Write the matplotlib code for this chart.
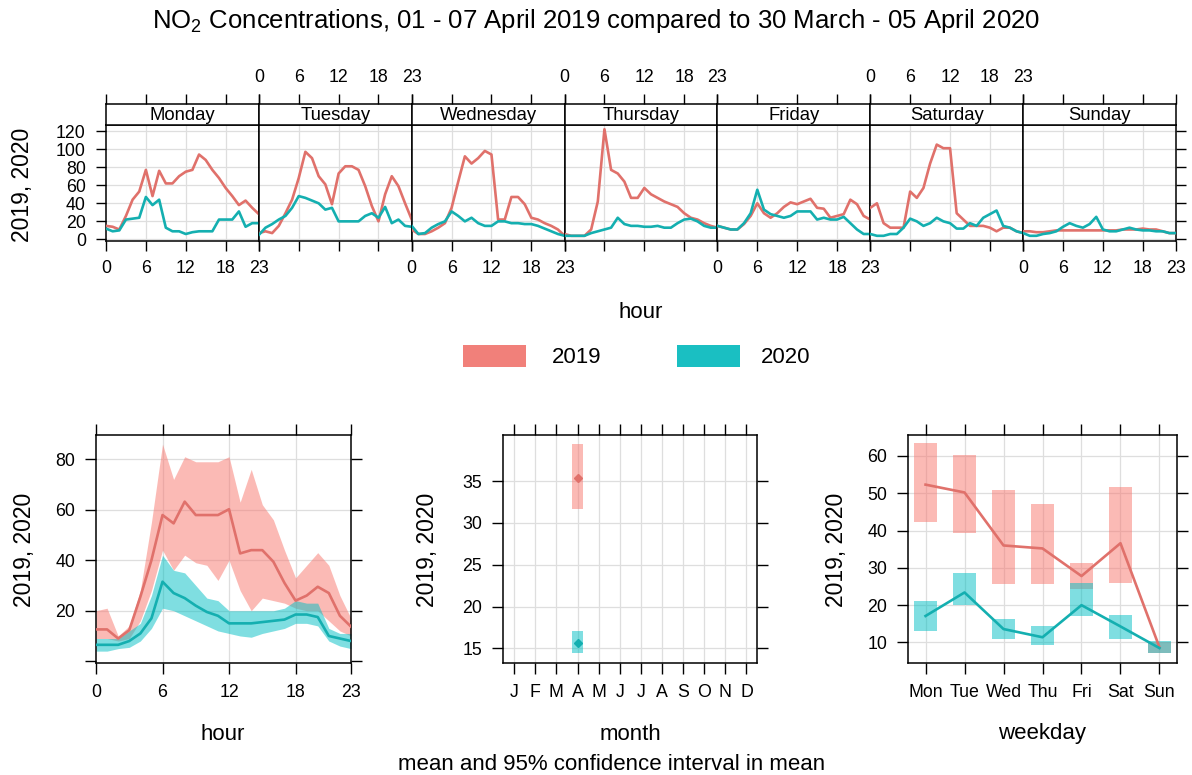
import matplotlib
matplotlib.use('Agg')
import matplotlib.pyplot as plt
from matplotlib.patches import Rectangle

plt.rcParams['font.family'] = ['Liberation Sans', 'DejaVu Sans']
plt.rcParams['mathtext.fontset'] = 'custom'
plt.rcParams['mathtext.rm'] = 'Liberation Sans'

W, H = 1192, 775

# ---------------- data ----------------
hours = list(range(24))
day_names = ['Monday', 'Tuesday', 'Wednesday', 'Thursday', 'Friday', 'Saturday', 'Sunday']
hour_ticks = [0, 6, 12, 18, 23]

mon_2019 = [15, 14, 11, 26, 44, 53, 77, 48, 76, 62, 62, 70, 75, 77, 94, 88, 77, 68, 57, 48, 38, 43, 35, 28]
mon_2020 = [12, 9, 10, 22, 23, 24, 47, 38, 44, 13, 9, 9, 6, 8, 9, 9, 9, 22, 22, 22, 31, 14, 18, 18]
tue_2019 = [7, 9, 7, 15, 29, 44, 68, 97, 90, 70, 61, 39, 73, 81, 81, 77, 59, 37, 20, 50, 70, 59, 40, 22]
tue_2020 = [5, 13, 17, 22, 26, 35, 48, 46, 43, 40, 33, 35, 20, 20, 20, 20, 26, 29, 24, 36, 18, 22, 15, 14]
wed_2019 = [11, 6, 6, 9, 13, 18, 35, 64, 92, 84, 90, 98, 94, 22, 22, 47, 47, 39, 24, 22, 18, 15, 11, 4]
wed_2020 = [15, 6, 7, 13, 17, 20, 31, 26, 20, 24, 18, 15, 15, 20, 20, 18, 18, 17, 17, 15, 12, 9, 6, 4]
thu_2019 = [6, 4, 4, 4, 11, 42, 122, 77, 73, 64, 46, 46, 57, 50, 46, 42, 39, 36, 29, 24, 22, 18, 15, 13]
thu_2020 = [4, 4, 4, 4, 7, 9, 11, 13, 24, 17, 15, 15, 14, 14, 15, 13, 13, 18, 22, 23, 20, 15, 13, 13]
fri_2019 = [15, 13, 11, 11, 17, 26, 40, 29, 24, 29, 36, 41, 39, 42, 45, 35, 34, 24, 26, 28, 44, 39, 26, 22]
fri_2020 = [15, 13, 11, 11, 18, 29, 55, 33, 28, 26, 24, 26, 31, 31, 31, 22, 24, 22, 22, 25, 18, 11, 6, 6]
sat_2019 = [35, 40, 18, 13, 13, 13, 53, 46, 57, 84, 105, 101, 101, 29, 22, 15, 15, 15, 13, 9, 13, 13, 9, 7]
sat_2020 = [6, 4, 4, 6, 6, 13, 23, 20, 15, 18, 24, 20, 18, 12, 12, 18, 15, 24, 28, 32, 15, 13, 9, 7]
sun_2019 = [9, 9, 8, 8, 9, 10, 10, 10, 10, 10, 10, 10, 10, 10, 10, 11, 11, 11, 12, 11, 11, 9, 7, 7]
sun_2020 = [7, 4, 4, 6, 7, 9, 14, 18, 15, 13, 17, 25, 11, 9, 9, 11, 13, 11, 10, 10, 9, 9, 7, 7]

series_2019 = [mon_2019, tue_2019, wed_2019, thu_2019, fri_2019, sat_2019, sun_2019]
series_2020 = [mon_2020, tue_2020, wed_2020, thu_2020, fri_2020, sat_2020, sun_2020]

# hour panel (mean + 95% CI)
hr_mean_2019 = [12.6, 12.6, 9, 12.3, 25.5, 40, 57.9, 54.6, 63.2, 57.9, 57.9, 57.9, 60.2, 42.7, 44, 44, 39.4, 31, 24, 26, 29.5, 27, 18, 13.7]
hr_lo_2019 = [9, 9, 8, 9, 16, 28, 44, 36, 42, 39, 38, 32, 40, 28, 20, 25, 24, 23, 21, 20, 20, 16, 12, 10]
hr_hi_2019 = [20, 21, 10, 14, 28, 55, 86, 72, 81, 79, 79, 79, 81, 63, 76, 62, 56, 44, 33, 38, 43, 38, 26, 17]
hr_mean_2020 = [6.5, 6.5, 6.5, 8, 11, 17, 31.5, 27, 25, 22, 19.5, 18, 15, 15, 15, 15.5, 16, 16.5, 18.5, 18.5, 17.5, 10, 9, 8]
hr_lo_2020 = [4, 4, 5, 5.5, 8, 13, 21, 20, 18, 16, 14, 12, 11, 10, 9.5, 11, 12, 13, 15, 15, 14, 8, 6, 5]
hr_hi_2020 = [9, 9, 9, 12, 15, 26, 42, 36, 35, 30, 25, 24, 20, 20, 20, 20, 20, 21, 24, 23, 23, 13, 11, 11]

# month panel
month_labels = ['J', 'F', 'M', 'A', 'M', 'J', 'J', 'A', 'S', 'O', 'N', 'D']
month_pos = [4]
mo_mean_2019 = [35.4]
mo_lo_2019 = [31.6]
mo_hi_2019 = [39.4]
mo_mean_2020 = [15.6]
mo_lo_2020 = [14.4]
mo_hi_2020 = [17.1]

# weekday panel
wd_labels = ['Mon', 'Tue', 'Wed', 'Thu', 'Fri', 'Sat', 'Sun']
wd_mean_2019 = [52.3, 50.2, 36.0, 35.2, 27.8, 36.6, 8.7]
wd_lo_2019 = [42.4, 39.3, 25.7, 25.7, 24.3, 26.0, 7.3]
wd_hi_2019 = [63.4, 60.3, 50.9, 47.1, 31.4, 51.6, 10.2]
wd_mean_2020 = [17.1, 23.4, 13.6, 11.4, 20.0, 14.3, 8.5]
wd_lo_2020 = [13.2, 20.0, 10.9, 9.4, 17.0, 10.9, 7.2]
wd_hi_2020 = [21.2, 28.6, 16.2, 14.3, 25.9, 17.4, 10.4]

# ---------------- style ----------------
C19_LINE = '#E0716B'
C20_LINE = '#14AFB0'
C19_FILL = '#F8766D'
C20_FILL = '#00BFC4'
ALPHA = 0.5
GRID = '#DEDEDE'
TICK_FS = 12.8
LAB_FS = 16

fig = plt.figure(figsize=(W / 100, H / 100), dpi=100)


def ax_px(l, t, r, b):
    return fig.add_axes([l / W, 1 - b / H, (r - l) / W, (b - t) / H])


def ftext(x, y, s, **kw):
    fig.text(x / W, 1 - y / H, s, **kw)


# title
ftext(596, 21, r'NO$_{\mathregular{2}}$ Concentrations, 01 - 07 April 2019 compared to 30 March - 05 April 2020',
      ha='center', va='center', fontsize=18.5)

# ---------------- top panels ----------------
L, R = 106, 1176
pw = (R - L) / 7
for i in range(7):
    x0 = L + i * pw
    ax = ax_px(x0, 125, x0 + pw, 241.5)
    ax.set_xlim(0, 23)
    ax.set_ylim(-2.3, 126.7)
    for g in [6, 12, 18]:
        ax.axvline(g, color=GRID, lw=0.9, zorder=0)
    for g in range(0, 121, 20):
        ax.axhline(g, color=GRID, lw=0.9, zorder=0)
    ax.plot(hours, series_2019[i], color=C19_LINE, lw=1.9, zorder=3)
    ax.plot(hours, series_2020[i], color=C20_LINE, lw=1.9, zorder=4)
    ax.set_xticks(hour_ticks)
    ax.tick_params(axis='x', direction='out', length=7.5, width=1, labelsize=TICK_FS, pad=6,
                   labelbottom=(i % 2 == 0), bottom=True, top=False)
    ax.set_yticks(range(0, 121, 20))
    if i == 0:
        ax.tick_params(axis='y', direction='out', length=7.5, width=1, labelsize=TICK_FS, pad=7,
                       left=True, right=False, labelleft=True)
    elif i == 6:
        ax.tick_params(axis='y', direction='out', length=7.5, width=1, left=False, right=True,
                       labelleft=False, labelright=False)
    else:
        ax.tick_params(axis='y', left=False, right=False, labelleft=False)
    for sp in ax.spines.values():
        sp.set_linewidth(1.1)
    # strip
    st = ax_px(x0, 103.5, x0 + pw, 125)
    st.set_xlim(0, 23)
    st.set_ylim(0, 1)
    st.set_yticks([])
    st.set_xticks(hour_ticks)
    st.tick_params(axis='x', direction='out', length=7.5, width=1, labelsize=TICK_FS, pad=5,
                   bottom=False, labelbottom=False, top=True, labeltop=(i % 2 == 1))
    st.text(0.5, 0.42, day_names[i], transform=st.transAxes, ha='center', va='center', fontsize=13.3)
    for sp in st.spines.values():
        sp.set_linewidth(1.1)

ftext(23, 185, '2019, 2020', rotation=90, ha='center', va='center', fontsize=16.5)
ftext(641, 312, 'hour', ha='center', va='center', fontsize=LAB_FS)

# legend
fig.add_artist(Rectangle((463 / W, 1 - 367 / H), 63 / W, 22 / H, transform=fig.transFigure,
                         facecolor='#F1807A', edgecolor='none'))
fig.add_artist(Rectangle((677 / W, 1 - 367 / H), 63 / W, 22 / H, transform=fig.transFigure,
                         facecolor='#1ABFC2', edgecolor='none'))
ftext(577, 357, '2019', ha='center', va='center', fontsize=LAB_FS)
ftext(786, 357, '2020', ha='center', va='center', fontsize=LAB_FS)


def style_bottom(ax):
    ax.tick_params(direction='out', length=8, width=1, labelsize=TICK_FS, pad=7,
                   top=True, right=True, labeltop=False, labelright=False)
    for sp in ax.spines.values():
        sp.set_linewidth(1.1)


# ---------------- hour panel ----------------
ax = ax_px(96, 435, 351, 663)
ax.set_xlim(0, 23)
ax.set_ylim(-0.7, 89.6)
for g in [6, 12, 18]:
    ax.axvline(g, color=GRID, lw=0.9, zorder=0)
for g in [20, 40, 60, 80]:
    ax.axhline(g, color=GRID, lw=0.9, zorder=0)
ax.fill_between(hours, hr_lo_2019, hr_hi_2019, color=C19_FILL, alpha=ALPHA, lw=0, zorder=1)
ax.fill_between(hours, hr_lo_2020, hr_hi_2020, color=C20_FILL, alpha=ALPHA, lw=0, zorder=2)
ax.plot(hours, hr_mean_2019, color=C19_LINE, lw=1.9, zorder=3)
ax.plot(hours, hr_mean_2020, color=C20_LINE, lw=1.9, zorder=4)
ax.set_xticks(hour_ticks)
ax.set_yticks([0, 20, 40, 60, 80])
ax.set_yticklabels(['', '20', '40', '60', '80'])
style_bottom(ax)
ftext(24, 550, '2019, 2020', rotation=90, ha='center', va='center', fontsize=16.5)
ftext(223, 734, 'hour', ha='center', va='center', fontsize=LAB_FS)

# ---------------- month panel ----------------
ax = ax_px(503, 435, 757, 663)
ax.set_xlim(0.47, 12.5)
ax.set_ylim(13.25, 40.5)
for g in range(1, 13):
    ax.axvline(g, color=GRID, lw=0.9, zorder=0)
for g in [15, 20, 25, 30, 35]:
    ax.axhline(g, color=GRID, lw=0.9, zorder=0)
bw = 0.5
for m, lo, hi, mu, fc, lc in [(month_pos[0], mo_lo_2019[0], mo_hi_2019[0], mo_mean_2019[0], C19_FILL, C19_LINE),
                              (month_pos[0], mo_lo_2020[0], mo_hi_2020[0], mo_mean_2020[0], C20_FILL, C20_LINE)]:
    ax.add_patch(Rectangle((m - bw / 2, lo), bw, hi - lo, facecolor=fc, alpha=ALPHA, edgecolor='none', zorder=2))
    ax.plot([m], [mu], marker='D', ms=4, color=lc, zorder=4)
ax.set_xticks(range(1, 13))
ax.set_xticklabels(month_labels)
ax.set_yticks([15, 20, 25, 30, 35])
style_bottom(ax)
ftext(427, 550, '2019, 2020', rotation=90, ha='center', va='center', fontsize=16.5)
ftext(630, 734, 'month', ha='center', va='center', fontsize=LAB_FS)
ftext(612, 765, 'mean and 95% confidence interval in mean', ha='center', va='center', fontsize=LAB_FS)

# ---------------- weekday panel ----------------
ax = ax_px(908, 435, 1177, 663)
wd_x = list(range(1, 8))
ax.set_xlim(0.55, 7.45)
ax.set_ylim(4.5, 65.6)
for g in wd_x:
    ax.axvline(g, color=GRID, lw=0.9, zorder=0)
for g in range(10, 61, 10):
    ax.axhline(g, color=GRID, lw=0.9, zorder=0)
rw = 0.58
for xx, lo, hi in zip(wd_x, wd_lo_2019, wd_hi_2019):
    ax.add_patch(Rectangle((xx - rw / 2, lo), rw, hi - lo, facecolor=C19_FILL, alpha=ALPHA, edgecolor='none', zorder=1))
for xx, lo, hi in zip(wd_x, wd_lo_2020, wd_hi_2020):
    ax.add_patch(Rectangle((xx - rw / 2, lo), rw, hi - lo, facecolor=C20_FILL, alpha=ALPHA, edgecolor='none', zorder=2))
ax.plot(wd_x, wd_mean_2019, color=C19_LINE, lw=1.9, zorder=3)
ax.plot(wd_x, wd_mean_2020, color=C20_LINE, lw=1.9, zorder=4)
ax.set_xticks(wd_x)
ax.set_xticklabels(wd_labels)
ax.set_yticks(range(10, 61, 10))
style_bottom(ax)
ftext(836, 550, '2019, 2020', rotation=90, ha='center', va='center', fontsize=16.5)
ftext(1042, 734, 'weekday', ha='center', va='center', fontsize=LAB_FS)

fig.savefig('out.png', dpi=100)
